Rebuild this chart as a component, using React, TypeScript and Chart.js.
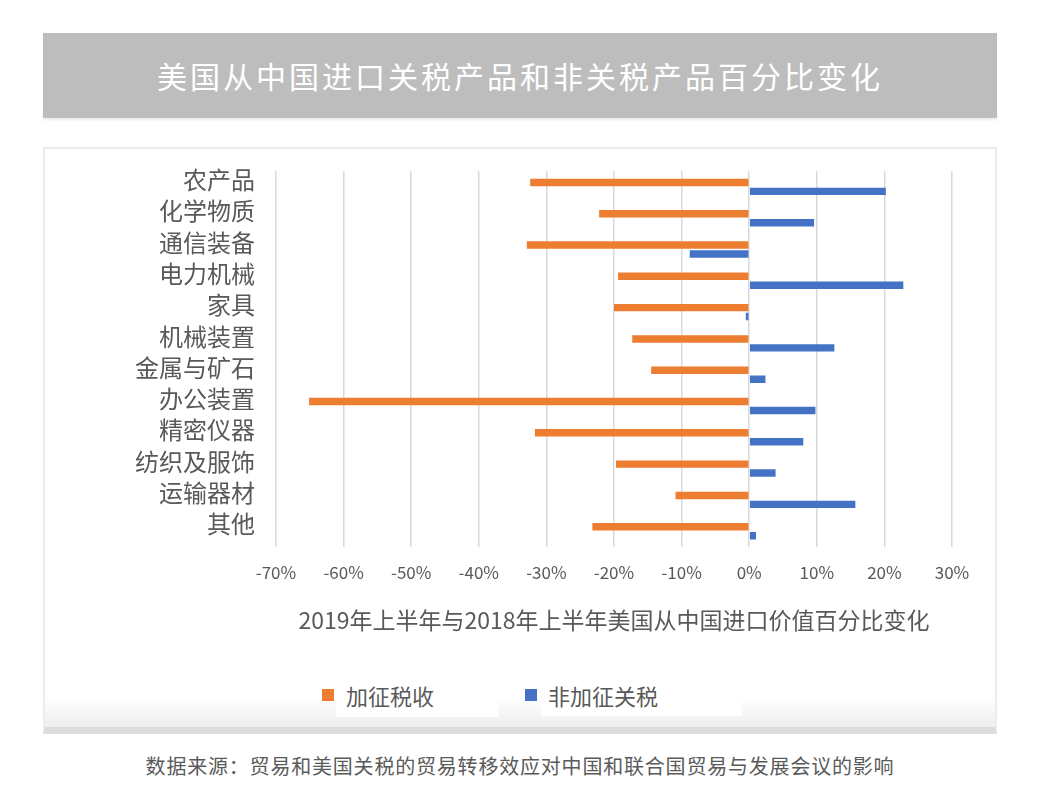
import React, { useEffect, useRef } from "react";
import { Chart, registerables } from "chart.js";

Chart.register(...registerables);

const FONT = "'Noto Sans CJK SC', 'Noto Sans', sans-serif";

const chartTitle = "美国从中国进口关税产品和非关税产品百分比变化";
const axisTitle = "2019年上半年与2018年上半年美国从中国进口价值百分比变化";
const sourceText = "数据来源：贸易和美国关税的贸易转移效应对中国和联合国贸易与发展会议的影响";

const categories = [
  "农产品",
  "化学物质",
  "通信装备",
  "电力机械",
  "家具",
  "机械装置",
  "金属与矿石",
  "办公装置",
  "精密仪器",
  "纺织及服饰",
  "运输器材",
  "其他",
];

const seriesNames = ["加征税收", "非加征关税"];
const seriesColors = ["#ED7D31", "#4472C4"];

const tariffed = [-32.4, -22.2, -32.9, -19.4, -20.0, -17.3, -14.5, -65.1, -31.7, -19.7, -10.9, -23.2];
const nonTariffed = [20.2, 9.6, -8.8, 22.8, -0.5, 12.6, 2.4, 9.8, 8.0, 3.9, 15.7, 1.0];

const xMin = -70;
const xMax = 30;
const xStep = 10;

export default function App() {
  const canvasRef = useRef<HTMLCanvasElement | null>(null);

  useEffect(() => {
    if (!canvasRef.current) return;
    const chart = new Chart(canvasRef.current, {
      type: "bar",
      data: {
        labels: categories,
        datasets: [
          {
            label: seriesNames[0],
            data: tariffed,
            backgroundColor: seriesColors[0],
            borderWidth: 0,
            categoryPercentage: 0.571,
            barPercentage: 0.83,
          },
          {
            label: seriesNames[1],
            data: nonTariffed,
            backgroundColor: seriesColors[1],
            borderWidth: 0,
            categoryPercentage: 0.571,
            barPercentage: 0.83,
          },
        ],
      },
      options: {
        indexAxis: "y",
        responsive: false,
        animation: false,
        layout: { padding: { top: 24.25, right: 45, bottom: 0, left: 0 } },
        plugins: {
          legend: { display: false },
          tooltip: { enabled: false },
        },
        scales: {
          x: {
            type: "linear",
            min: xMin,
            max: xMax,
            ticks: {
              stepSize: xStep,
              callback: (v: any) => `${v}%`,
              font: { size: 17, family: FONT },
              color: "#595959",
              padding: 15,
            },
            grid: { color: "#d9d9d9", lineWidth: 1.5, drawTicks: false },
            border: { display: false },
            title: {
              display: true,
              text: axisTitle,
              font: { size: 23, family: FONT },
              color: "#595959",
              padding: { top: 9.15, bottom: 0 },
            },
          },
          y: {
            type: "category",
            ticks: {
              font: { size: 24, family: FONT },
              color: "#595959",
              padding: 0,
              labelOffset: -7,
              autoSkip: false,
            },
            grid: {
              display: true,
              drawOnChartArea: false,
              drawTicks: true,
              tickLength: 21,
              tickColor: "transparent",
            },
            border: { display: false },
            afterFit: (s: any) => {
              s.width = 233;
            },
          },
        },
      } as any,
    });
    return () => chart.destroy();
  }, []);

  return (
    <div
      style={{
        position: "absolute",
        left: 0,
        top: 0,
        width: 1045,
        height: 812,
        background: "#ffffff",
        fontFamily: FONT,
        overflow: "hidden",
      }}
    >
      {/* title bar */}
      <div
        style={{
          position: "absolute",
          left: 43,
          top: 33,
          width: 954,
          height: 85,
          background: "#bdbdbd",
          boxShadow: "0 2px 2px rgba(0,0,0,0.08)",
          color: "#ffffff",
          fontSize: 30,
          letterSpacing: 3,
          lineHeight: "85px",
          textAlign: "center",
          whiteSpace: "nowrap",
        }}
      >
        {chartTitle}
      </div>

      {/* chart panel */}
      <div
        style={{
          position: "absolute",
          left: 43,
          top: 147,
          width: 954,
          height: 587,
          boxSizing: "border-box",
          border: "2px solid #ececec",
          borderBottom: "7px solid #dcdcdc",
          background: "linear-gradient(to bottom, #ffffff 0px, #ffffff 548px, #eeeeee 578px)",
        }}
      />
      {/* white patches behind legend text */}
      <div style={{ position: "absolute", left: 336, top: 680, width: 162, height: 37, background: "#ffffff" }} />
      <div style={{ position: "absolute", left: 541, top: 680, width: 201, height: 36, background: "#ffffff" }} />

      <canvas
        ref={canvasRef}
        width={954}
        height={487}
        style={{ position: "absolute", left: 43, top: 147, width: 954, height: 487 }}
      />

      {/* legend */}
      <div style={{ position: "absolute", left: 322, top: 689, width: 12, height: 12, background: seriesColors[0] }} />
      <div
        style={{
          position: "absolute",
          left: 346,
          top: 680,
          fontSize: 22,
          lineHeight: "30px",
          color: "#595959",
          whiteSpace: "nowrap",
        }}
      >
        {seriesNames[0]}
      </div>
      <div style={{ position: "absolute", left: 525, top: 689, width: 12, height: 12, background: seriesColors[1] }} />
      <div
        style={{
          position: "absolute",
          left: 548,
          top: 680,
          fontSize: 22,
          lineHeight: "30px",
          color: "#595959",
          whiteSpace: "nowrap",
        }}
      >
        {seriesNames[1]}
      </div>

      {/* source */}
      <div
        style={{
          position: "absolute",
          left: 0,
          top: 752,
          width: 1040,
          textAlign: "center",
          fontSize: 20,
          letterSpacing: 0.8,
          lineHeight: "28px",
          color: "#5a5a5a",
          whiteSpace: "nowrap",
        }}
      >
        {sourceText}
      </div>
    </div>
  );
}
